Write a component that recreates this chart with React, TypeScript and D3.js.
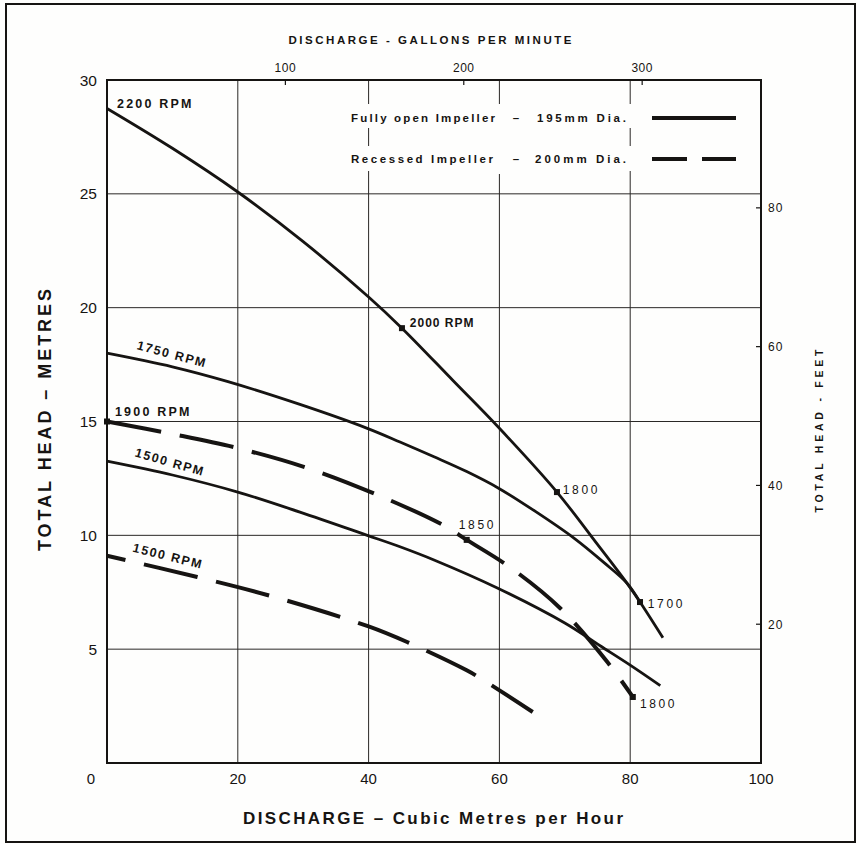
import React from 'react';
import * as d3 from 'd3';

const W = 857;
const H = 844;

// ---------- axes / ticks ----------
const flowTicks = [0, 20, 40, 60, 80, 100];
const headTicks = [5, 10, 15, 20, 25, 30];
const gridFlow = [20, 40, 60, 80];
const gridHead = [5, 10, 15, 20, 25];
const gpmTicks = [100, 200, 300];
const feetTicks = [20, 40, 60, 80];

// ---------- series (flow m3/h, head m) ----------
const q2200 = [0, 10, 20, 30, 40, 45.1, 52.9, 60, 68.8, 75, 79.5, 81.5, 85];
const h2200 = [28.75, 27.0, 25.08, 22.9, 20.47, 19.1, 16.8, 14.7, 11.9, 9.6, 7.9, 7.07, 5.5];

const q1750 = [0, 10, 18.5, 29.5, 39.8, 44.8, 50, 55, 60, 65.5, 71.3, 76, 79.5, 81.5];
const h1750 = [18.0, 17.4, 16.75, 15.75, 14.7, 14.1, 13.45, 12.8, 12.05, 11.05, 9.9, 8.8, 7.9, 7.07];

const q1500 = [0, 10, 20, 29.5, 39.8, 44.8, 50, 59.6, 70, 75.4, 80, 84.6];
const h1500 = [13.26, 12.65, 11.9, 11.02, 10.0, 9.5, 8.92, 7.7, 6.15, 5.15, 4.3, 3.4];

const q1900r = [0, 10, 20, 30.6, 41.4, 51.4, 55, 61.6, 69.3, 76.6, 80.4];
const h1900r = [15.0, 14.45, 13.83, 12.96, 11.77, 10.45, 9.8, 8.6, 6.8, 4.4, 2.9];

const q1500r = [0, 13.8, 24.5, 40, 46, 55, 57.5, 65.1];
const h1500r = [9.1, 8.17, 7.38, 6.0, 5.3, 4.07, 3.65, 2.24];

// speed-change markers
const markerFlow = [45.1, 68.8, 81.5, 0, 55, 80.4];
const markerHead = [19.1, 11.9, 7.07, 15.0, 9.8, 2.9];

// curve labels anchored in data units
const labelText = ['2200 RPM', '2000 RPM', '1800', '1700', '1850', '1800', '1900 RPM', '1750 RPM', '1500 RPM', '1500 RPM'];
const labelFlow = [1.53, 46.3, 69.7, 82.7, 53.8, 81.5, 1.22, 9.94, 9.63, 9.33];
const labelHead = [28.77, 19.15, 11.81, 6.81, 10.28, 2.42, 15.24, 17.96, 13.22, 9.09];

const INK = '#161412';
const PAPER = '#fefefd';
const FONT = '"Liberation Sans", Arial, Helvetica, sans-serif';

export default function App() {
  const x = d3.scaleLinear().domain([0, 100]).range([107, 761]);
  const y = d3.scaleLinear().domain([0, 30]).range([763, 80]);
  const xg = d3.scaleLinear().domain([0, 100 / 0.272765]).range([107, 761]);
  const yf = d3.scaleLinear().domain([0, 30 / 0.3048]).range([763, 80]);

  const line = d3
    .line<[number, number]>()
    .x((d) => x(d[0]))
    .y((d) => y(d[1]))
    .curve(d3.curveCatmullRom.alpha(0.5));

  const zip = (a: number[], b: number[]) => a.map((v, i) => [v, b[i]] as [number, number]);

  const curves = [
    { pts: zip(q2200, h2200), dashed: false, off: 0 },
    { pts: zip(q1750, h1750), dashed: false, off: 0 },
    { pts: zip(q1500, h1500), dashed: false, off: 0 },
    { pts: zip(q1900r, h1900r), dashed: true, off: 0 },
    { pts: zip(q1500r, h1500r), dashed: true, off: 36 },
  ];

  const labelStyle = [
    { w: 'bold', fs: 12.5, ls: 2.2, rot: 0, anchor: 'start' },
    { w: 'bold', fs: 12, ls: 1.0, rot: 0, anchor: 'start' },
    { w: 'normal', fs: 12, ls: 2.6, rot: 0, anchor: 'start' },
    { w: 'normal', fs: 12, ls: 2.6, rot: 0, anchor: 'start' },
    { w: 'normal', fs: 12, ls: 2.6, rot: 0, anchor: 'start' },
    { w: 'normal', fs: 12, ls: 2.6, rot: 0, anchor: 'start' },
    { w: 'bold', fs: 12.5, ls: 2.2, rot: 0, anchor: 'start' },
    { w: 'bold', fs: 12.5, ls: 1.6, rot: 15, anchor: 'middle' },
    { w: 'bold', fs: 12.5, ls: 1.6, rot: 16, anchor: 'middle' },
    { w: 'bold', fs: 12.5, ls: 1.6, rot: 14, anchor: 'middle' },
  ];

  return (
    <svg
      width={W}
      height={H}
      viewBox={`0 0 ${W} ${H}`}
      style={{ position: 'absolute', left: 0, top: 0, background: PAPER }}
      fontFamily={FONT}
    >
      <rect x={0} y={0} width={W} height={H} fill={PAPER} />
      {/* outer frame */}
      <rect x={6} y={4} width={849} height={838} fill="none" stroke={INK} strokeWidth={2} />

      {/* grid */}
      {gridFlow.map((v) => (
        <line key={'gx' + v} x1={x(v)} x2={x(v)} y1={y(30)} y2={y(0)} stroke="#2a2826" strokeWidth={1} />
      ))}
      {gridHead.map((v) => (
        <line key={'gy' + v} x1={x(0)} x2={x(100)} y1={y(v)} y2={y(v)} stroke="#2a2826" strokeWidth={1} />
      ))}

      {/* legend erase boxes */}
      <rect x={345} y={104} width={400} height={24} fill={PAPER} />
      <rect x={345} y={146} width={400} height={25} fill={PAPER} />
      <rect x={485} y={104} width={25} height={70} fill={PAPER} />

      {/* plot border */}
      <rect x={x(0)} y={y(30)} width={x(100) - x(0)} height={y(0) - y(30)} fill="none" stroke={INK} strokeWidth={2} />

      {/* top axis ticks (gpm) */}
      {gpmTicks.map((v) => (
        <g key={'gpm' + v}>
          <line x1={xg(v)} x2={xg(v)} y1={y(30)} y2={y(30) + 5} stroke={INK} strokeWidth={1.2} />
          <text x={xg(v)} y={72} fontSize={12} textAnchor="middle" fill={INK} letterSpacing={0.5}>
            {v}
          </text>
        </g>
      ))}
      <text x={430} y={44} fontSize={11.5} fontWeight="bold" textAnchor="middle" fill={INK} textLength={283} lengthAdjust="spacing">
        DISCHARGE - GALLONS PER MINUTE
      </text>

      {/* right axis (feet) */}
      {feetTicks.map((v) => (
        <g key={'ft' + v}>
          <line x1={x(100) - 5} x2={x(100) + 1} y1={yf(v)} y2={yf(v)} stroke={INK} strokeWidth={1.2} />
          <text x={768} y={yf(v) + 4.5} fontSize={12} fill={INK} letterSpacing={1}>
            {v}
          </text>
        </g>
      ))}
      <text
        transform={`translate(823,431) rotate(-90)`}
        fontSize={10.5}
        fontWeight="bold"
        textAnchor="middle"
        fill={INK}
        textLength={163}
        lengthAdjust="spacing"
      >
        TOTAL HEAD - FEET
      </text>

      {/* left axis labels */}
      {headTicks.map((v) => (
        <text key={'hl' + v} x={97} y={y(v) + 5.5} fontSize={15.5} textAnchor="end" fill={INK}>
          {v}
        </text>
      ))}
      <text
        transform={`translate(51,420) rotate(-90)`}
        fontSize={18}
        fontWeight="bold"
        textAnchor="middle"
        fill={INK}
        textLength={262}
        lengthAdjust="spacing"
      >
        TOTAL HEAD – METRES
      </text>

      {/* bottom axis labels */}
      {flowTicks.map((v) => (
        <text key={'fl' + v} x={v === 0 ? x(v) - 16 : x(v)} y={784} fontSize={15} textAnchor="middle" fill={INK}>
          {v}
        </text>
      ))}
      <text x={433} y={824} fontSize={17} fontWeight="bold" textAnchor="middle" fill={INK} textLength={380} lengthAdjust="spacing">
        DISCHARGE – Cubic Metres per Hour
      </text>

      {/* curves */}
      {curves.map((c, i) => (
        <path
          key={'c' + i}
          d={line(c.pts) || ''}
          fill="none"
          stroke={INK}
          strokeWidth={c.dashed ? 4 : 2.8}
          strokeDasharray={c.dashed ? '55 19' : undefined}
          strokeDashoffset={c.off}
          strokeLinecap="butt"
        />
      ))}

      {/* markers */}
      {markerFlow.map((q, i) => (
        <rect key={'m' + i} x={x(q) - 3} y={y(markerHead[i]) - 3} width={6} height={6} fill={INK} />
      ))}

      {/* curve labels */}
      {labelText.map((t, i) => {
        const s = labelStyle[i];
        const px = x(labelFlow[i]);
        const py = y(labelHead[i]);
        if (s.rot) {
          return (
            <text
              key={'l' + i}
              transform={`translate(${px},${py}) rotate(${s.rot})`}
              dy="0.35em"
              fontSize={s.fs}
              fontWeight={s.w}
              letterSpacing={s.ls}
              textAnchor={s.anchor as any}
              fill={INK}
            >
              {t}
            </text>
          );
        }
        return (
          <text key={'l' + i} x={px} y={py} fontSize={s.fs} fontWeight={s.w} letterSpacing={s.ls} fill={INK}>
            {t}
          </text>
        );
      })}

      {/* legend */}
      <text x={351} y={122} fontSize={11.5} fontWeight="bold" fill={INK} textLength={144} lengthAdjust="spacing">
        Fully open Impeller
      </text>
      <text x={516} y={122} fontSize={11.5} fontWeight="bold" fill={INK} textAnchor="middle">
        –
      </text>
      <text x={537} y={122} fontSize={11.5} fontWeight="bold" fill={INK} textLength={89} lengthAdjust="spacing">
        195mm Dia.
      </text>
      <line x1={652} x2={736} y1={118} y2={118} stroke={INK} strokeWidth={4} />

      <text x={351} y={163} fontSize={11.5} fontWeight="bold" fill={INK} textLength={142} lengthAdjust="spacing">
        Recessed Impeller
      </text>
      <text x={516} y={163} fontSize={11.5} fontWeight="bold" fill={INK} textAnchor="middle">
        –
      </text>
      <text x={535} y={163} fontSize={11.5} fontWeight="bold" fill={INK} textLength={91} lengthAdjust="spacing">
        200mm Dia.
      </text>
      <line x1={652} x2={736} y1={159} y2={159} stroke={INK} strokeWidth={4} strokeDasharray="35 15" />
    </svg>
  );
}
